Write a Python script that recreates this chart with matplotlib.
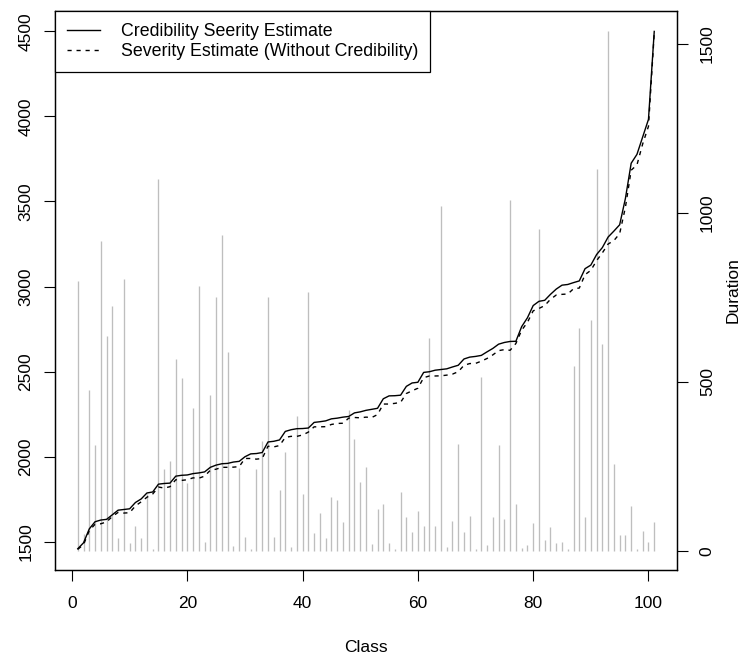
import numpy as np
import matplotlib
matplotlib.use("Agg")
import matplotlib.pyplot as plt

plt.rcParams['font.family'] = ['Liberation Sans', 'DejaVu Sans']

classes = list(range(1, 102))

duration = [798, 49, 475, 314, 917, 636, 725, 38, 803, 23,
            75, 38, 168, 7, 1101, 241, 267, 569, 512, 200,
            423, 782, 28, 460, 751, 935, 588, 16, 246, 42,
            7, 241, 324, 751, 42, 181, 293, 12, 400, 168,
            766, 54, 111, 38, 160, 150, 87, 416, 330, 205,
            249, 21, 124, 140, 23, 7, 174, 101, 57, 119,
            75, 629, 75, 1019, 12, 88, 317, 57, 104, 7,
            514, 18, 101, 314, 96, 1037, 139, 9, 18, 83,
            951, 33, 72, 25, 26, 5, 548, 660, 101, 683,
            1128, 613, 1536, 257, 46, 46, 134, 7, 59, 28,
            85]

cred_severity = [1458, 1493, 1575, 1617, 1627, 1631, 1658, 1685, 1689, 1693,
                 1730, 1751, 1786, 1792, 1838, 1842, 1844, 1885, 1890, 1892,
                 1900, 1904, 1910, 1937, 1950, 1958, 1960, 1968, 1972, 1999,
                 2016, 2018, 2024, 2086, 2090, 2098, 2148, 2158, 2164, 2165,
                 2168, 2201, 2205, 2210, 2222, 2226, 2232, 2236, 2257, 2263,
                 2272, 2278, 2284, 2340, 2357, 2358, 2361, 2413, 2433, 2437,
                 2495, 2499, 2508, 2512, 2516, 2527, 2537, 2574, 2585, 2589,
                 2595, 2616, 2636, 2661, 2671, 2677, 2678, 2764, 2816, 2888,
                 2913, 2919, 2954, 2985, 3008, 3012, 3023, 3033, 3105, 3126,
                 3188, 3229, 3291, 3326, 3363, 3518, 3725, 3777, 3880, 3983,
                 4500]

raw_severity = [1455, 1482, 1565, 1602, 1605, 1616, 1648, 1672, 1668, 1670,
                1710, 1734, 1761, 1780, 1821, 1815, 1823, 1864, 1860, 1864,
                1875, 1873, 1885, 1920, 1926, 1937, 1937, 1938, 1941, 1989,
                1989, 1985, 1989, 2061, 2057, 2065, 2113, 2119, 2119, 2127,
                2144, 2175, 2175, 2176, 2189, 2195, 2196, 2226, 2230, 2228,
                2232, 2230, 2247, 2309, 2309, 2313, 2319, 2371, 2387, 2402,
                2464, 2474, 2474, 2475, 2479, 2485, 2499, 2537, 2547, 2548,
                2561, 2577, 2598, 2623, 2629, 2625, 2665, 2743, 2789, 2857,
                2871, 2888, 2925, 2950, 2954, 2956, 2987, 2991, 3070, 3095,
                3152, 3198, 3250, 3270, 3311, 3466, 3684, 3715, 3839, 3942,
                4490]

x_ticks = [0, 20, 40, 60, 80, 100]
left_ticks = [1500, 2000, 2500, 3000, 3500, 4000, 4500]
right_ticks = [0, 500, 1000, 1500]

labels = ["Credibility Seerity Estimate", "Severity Estimate (Without Credibility)"]


def r_lim(vals):
    lo, hi = min(vals), max(vals)
    pad = 0.04 * (hi - lo)
    return lo - pad, hi + pad


W, H = 743, 657
fig = plt.figure(figsize=(W / 100, H / 100), dpi=100)
left, right, top, bottom = 54.7, 677.3, 10.7, 570.0
ax = fig.add_axes([left / W, 1 - bottom / H, (right - left) / W, (bottom - top) / H])
ax2 = ax.twinx()
ax.set_zorder(ax2.get_zorder() + 1)
ax.patch.set_visible(False)

FS = 12.5
LFS = 12.8
tick_len = 8.2

# bars (Duration, right axis)
ax2.vlines(classes, 0, duration, colors='#BEBEBE', linewidth=0.95)
ax2.set_ylim(*r_lim(duration))
ax2.set_yticks(right_ticks)
ax2.set_yticklabels([str(t) for t in right_ticks], rotation=90, va='center', fontsize=FS)
ax2.tick_params(axis='y', direction='out', length=tick_len, width=0.8, pad=8.0)
ax2.set_ylabel('Duration', fontsize=FS)
ax2.yaxis.label.set_va('center')
ax2.yaxis.set_label_coords(1.0894, 0.5)

# lines (left axis)
l1, = ax.plot(classes, cred_severity, color='black', linewidth=1.0, linestyle='-')
l2, = ax.plot(classes, raw_severity, color='black', linewidth=1.0, linestyle=(0, (3, 3.5)))
ax.set_xlim(*r_lim(classes))
ax.set_ylim(*r_lim(cred_severity + raw_severity))
ax.set_xticks(x_ticks)
ax.set_xticklabels([str(t) for t in x_ticks], fontsize=FS)
ax.set_yticks(left_ticks)
ax.set_yticklabels([str(t) for t in left_ticks], rotation=90, va='center', fontsize=FS)
ax.tick_params(axis='both', direction='out', length=tick_len, width=0.8)
ax.tick_params(axis='x', pad=10.5)
ax.tick_params(axis='y', pad=7.0)
ax.set_xlabel('Class', fontsize=FS)
ax.xaxis.label.set_va('center')
ax.xaxis.set_label_coords(0.5, (570 - 647) / (570 - 10.7))

for a in (ax, ax2):
    for s in a.spines.values():
        s.set_linewidth(0.9)
        s.set_color('black')

leg = ax.legend([l1, l2], labels, loc='upper left', bbox_to_anchor=(0, 1),
                borderaxespad=0, fontsize=LFS, frameon=True, fancybox=False,
                edgecolor='black', framealpha=1, handlelength=1.85,
                handletextpad=1.2, labelspacing=0.19, borderpad=0.68)
leg.get_frame().set_linewidth(0.9)

fig.savefig('out.png', dpi=100)
